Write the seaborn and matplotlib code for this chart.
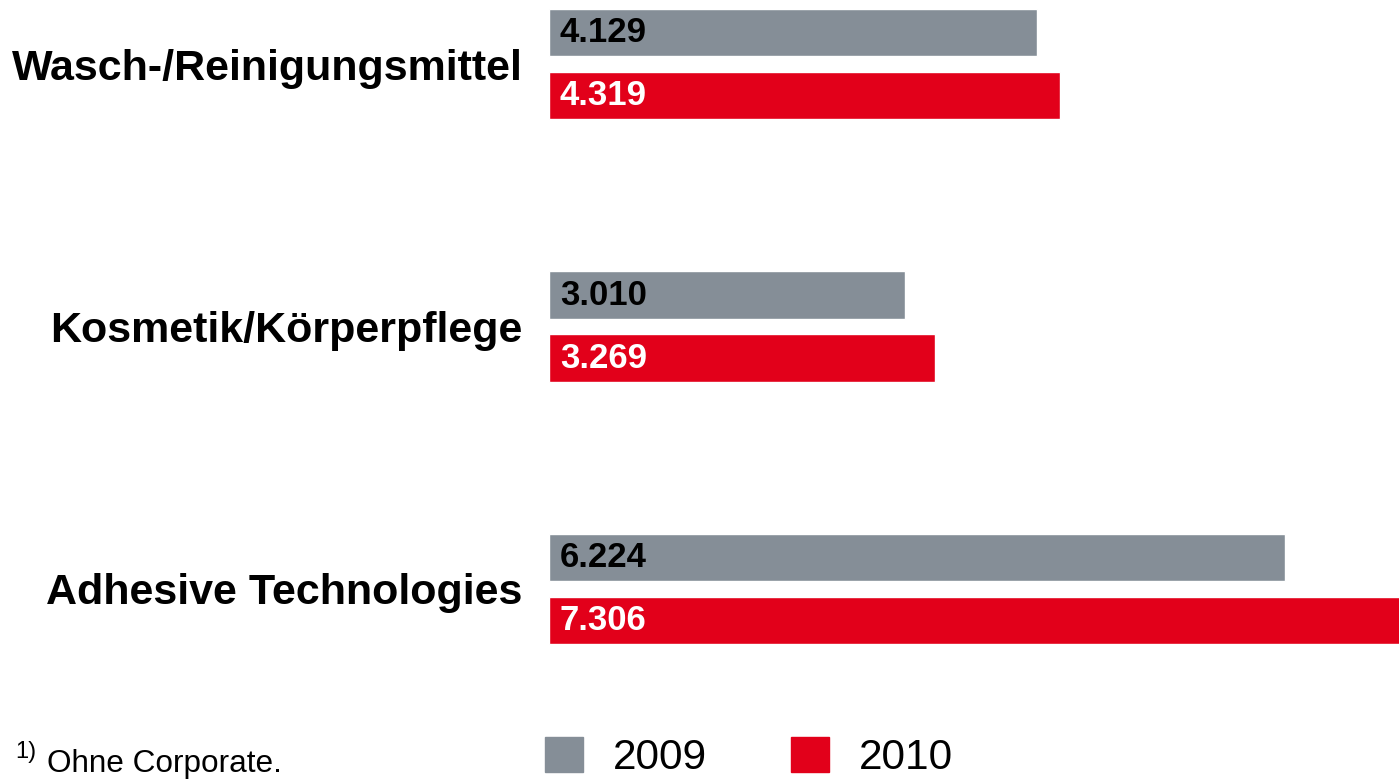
import pandas as pd
import matplotlib.pyplot as plt
import seaborn as sns

# -----------------------------
# Data
# -----------------------------
categories = [
    "Wasch-/Reinigungsmittel",
    "Kosmetik/Körperpflege",
    "Adhesive Technologies",
]
sales_2009 = [4129, 3010, 6224]
sales_2010 = [4319, 3269, 7306]
years = ["2009", "2010"]
value_labels_2009 = ["4.129", "3.010", "6.224"]
value_labels_2010 = ["4.319", "3.269", "7.306"]
footnote = "Ohne Corporate."

colors = {"2009": "#858e97", "2010": "#e2001a"}
label_colors = {"2009": "black", "2010": "white"}

df = pd.DataFrame({
    "category": categories * 2,
    "year": [years[0]] * 3 + [years[1]] * 3,
    "value": sales_2009 + sales_2010,
})
bar_texts = {"2009": value_labels_2009, "2010": value_labels_2010}

# -----------------------------
# Figure
# -----------------------------
sns.set_style("white")
plt.rcParams["font.family"] = ["Liberation Sans", "DejaVu Sans"]
plt.rcParams["text.color"] = "black"

fig = plt.figure(figsize=(13.99, 7.79), dpi=100)
ax = fig.add_axes([549 / 1399, 0, 850 / 1399, 1])

sns.barplot(
    data=df,
    y="category",
    x="value",
    hue="year",
    order=categories,
    hue_order=years,
    palette=colors,
    orient="h",
    width=0.48,
    gap=0.24,
    saturation=1,
    legend=False,
    ax=ax,
)

ax.set_xlim(0, 7191)
ax.set_ylim(2.724, -0.244)
ax.set_xlabel("")
ax.set_ylabel("")
ax.set_xticks([])
ax.tick_params(axis="y", length=0, pad=19)
for lbl in ax.get_yticklabels():
    lbl.set_fontsize(31)
    lbl.set_fontweight("bold")
    lbl.set_color("black")
for s in ax.spines.values():
    s.set_visible(False)

# value labels inside bars, left aligned
for container, year in zip(ax.containers, years):
    for bar, txt in zip(container, bar_texts[year]):
        ax.text(
            93,
            bar.get_y() + bar.get_height() / 2,
            txt,
            ha="left",
            va="center",
            fontsize=25,
            fontweight="bold",
            color=label_colors[year],
        )

# -----------------------------
# Legend and footnote
# -----------------------------
handles = [plt.Rectangle((0, 0), 1, 1, color=colors[y]) for y in years]
fig.legend(
    handles, years,
    loc="lower left",
    bbox_to_anchor=(507 / 1399, -37 / 779),
    ncol=2,
    frameon=False,
    fontsize=30.5,
    handlelength=0.9,
    handleheight=0.9,
    handletextpad=0.71,
    columnspacing=1.97,
)

fig.text(15 / 1399, 16 / 779, "1)", fontsize=17, va="bottom")
fig.text(47 / 1399, 0, footnote, fontsize=22.7, va="bottom")

fig.savefig("out.png", dpi=100)
plt.close(fig)
